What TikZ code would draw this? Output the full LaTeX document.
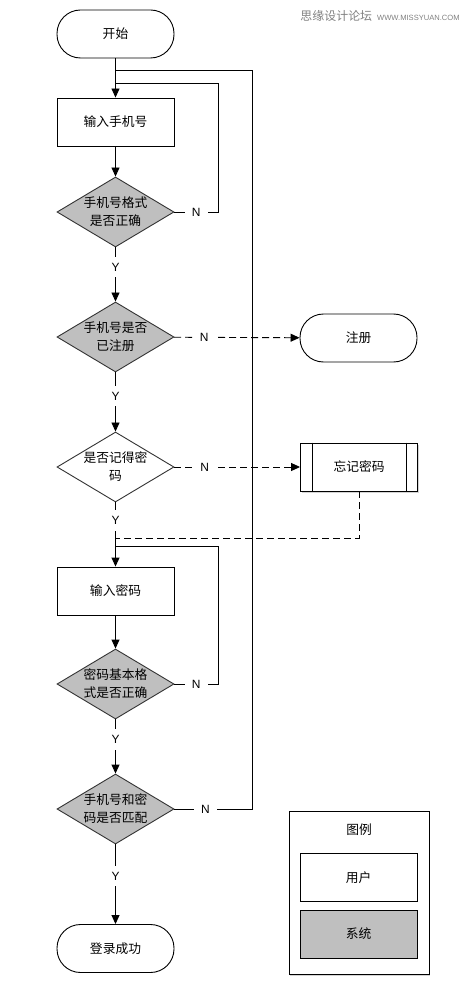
\documentclass[tikz,border=0pt]{standalone}
\usepackage{fontspec}
\setmainfont{Liberation Sans}
\newfontfamily\cjk{Noto Sans CJK SC}
\usetikzlibrary{shapes.geometric,shadows,arrows.meta}

\tikzset{
  >={Triangle[length=9bp,width=8bp]},
  cjkfont/.style={font=\cjk\fontsize{12.8}{18}\selectfont},
  terminal/.style={draw, cjkfont, rounded corners=23.5bp, minimum width=117bp, minimum height=48bp},
  process/.style={draw, cjkfont, minimum width=117bp, minimum height=48bp},
  decision/.style={draw=black!80, diamond, cjkfont, aspect=1.67, minimum width=117bp,
    minimum height=70bp, inner sep=0pt, align=center},
  sysfill/.style={fill=black!25},
  yn/.style={fill=white, inner xsep=7bp, inner ysep=6bp, font=\fontsize{12}{13}\selectfont},
  flowdash/.style={dash pattern=on 7bp off 4bp},
  boxshadow/.style={fill=white, drop shadow={shadow xshift=1bp, shadow yshift=-2bp, opacity=0.35}},
}

\begin{document}
\begin{tikzpicture}[line width=0.9bp]
    \def\x{0.035278}
    \def\y{-0.035278}
    \useasboundingbox (0,0) rectangle (475*\x, 1000*\y);
    % main column
    \node (Start) [terminal] at (115.5*\x, 34*\y) {开始};
    \node (Phone) [process] at (115.5*\x, 122*\y) {输入手机号};
    \node (D1) [decision, sysfill] at (115.5*\x, 212*\y) {手机号格式\\是否正确};
    \node (D2) [decision, sysfill] at (115.5*\x, 337*\y) {手机号是否\\已注册};
    \node (D3) [decision, fill=white] at (115.5*\x, 467*\y) {是否记得密\\码};
    \node (Pwd) [process] at (115.5*\x, 591*\y) {输入密码};
    \node (D4) [decision, sysfill] at (115.5*\x, 684*\y) {密码基本格\\式是否正确};
    \node (D5) [decision, sysfill] at (115.5*\x, 809*\y) {手机号和密\\码是否匹配};
    \node (Done) [terminal] at (115.5*\x, 948.5*\y) {登录成功};
    % right column
    \node (Reg) [terminal] at (358.5*\x, 338*\y) {注册};
    \node (Forget) [process, boxshadow] at (359*\x, 467*\y) {忘记密码};
    \draw ([xshift=12bp]Forget.north west) -- ([xshift=12bp]Forget.south west);
    \draw ([xshift=-12bp]Forget.north east) -- ([xshift=-12bp]Forget.south east);
    % junctions
    \coordinate (J0) at (115.5*\x, 70*\y);
    \coordinate (J1) at (115.5*\x, 83*\y);
    \coordinate (J3) at (115.5*\x, 538*\y);
    \coordinate (J4) at (115.5*\x, 546*\y);
    \coordinate (C1) at (218*\x, 212*\y);
    \coordinate (C4) at (218*\x, 684*\y);
    \coordinate (C5) at (252*\x, 809*\y);
    % yes path
    \path (Start) edge [->] (Phone);
    \path (Phone) edge [->] (D1);
    \path (D1) edge [->] node [yn, pos=0.36] {Y} (D2);
    \path (D2) edge [->] node [yn, pos=0.4] {Y} (D3);
    \path (D3) edge [->] node [yn, pos=0.28] {Y} (Pwd);
    \path (Pwd) edge [->] (D4);
    \path (D4) edge [->] node [yn, pos=0.37] {Y} (D5);
    \path (D5) edge [->] node [yn, pos=0.4] {Y} (Done);
    % no path
    \draw (D1.east) -- node [yn] {N} (C1) |- (J1);
    \draw (D4.east) -- node [yn] {N} (C4) |- (J4);
    \draw (D5.east) -- node [yn, pos=0.4] {N} (C5) |- (J0);
    \path (D2) edge [->, flowdash] node [yn, pos=0.24] {N} (Reg);
    \path (D3) edge [->, flowdash] node [yn, pos=0.24] {N} (Forget);
    \draw [flowdash] (Forget.south) |- (J3);
    % legend
    \node (Legend) [draw, boxshadow, minimum width=140bp, minimum height=163bp] at (359*\x, 892.5*\y) {};
    \node (LegTitle) [cjkfont] at (359*\x, 830*\y) {图例};
    \node (User) [process] at (358.5*\x, 877.5*\y) {用户};
    \node (Sys) [process, sysfill] at (358.5*\x, 934*\y) {系统};
    % watermark
    \node (Mark) [anchor=west, inner sep=0pt, text=black!50] at (300*\x, 16*\y)
      {{\cjk\fontsize{12}{14}\selectfont 思缘设计论坛}\hspace{5bp}{\fontsize{7.6}{8}\selectfont WWW.MISSYUAN.COM}};
  \end{tikzpicture}
\end{document}
